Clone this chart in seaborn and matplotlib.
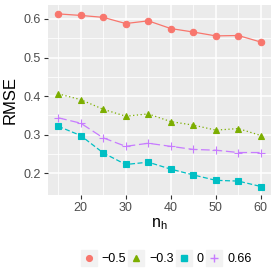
import numpy as np
import pandas as pd
import matplotlib
matplotlib.use('Agg')
import matplotlib.pyplot as plt
from matplotlib.lines import Line2D
import seaborn as sns

#%% datos
n_h = [15, 20, 25, 30, 35, 40, 45, 50, 55, 60]
rmse_m05 = [0.613, 0.609, 0.604, 0.588, 0.595, 0.575, 0.566, 0.556, 0.557, 0.540]
rmse_m03 = [0.406, 0.391, 0.366, 0.348, 0.354, 0.334, 0.325, 0.312, 0.316, 0.298]
rmse_0 = [0.322, 0.298, 0.253, 0.223, 0.229, 0.211, 0.196, 0.182, 0.180, 0.166]
rmse_066 = [0.344, 0.330, 0.292, 0.270, 0.278, 0.270, 0.262, 0.260, 0.254, 0.254]
grupos = ['\u22120.5', '\u22120.3', '0', '0.66']

df = pd.DataFrame({
    'n_h': n_h * 4,
    'RMSE': rmse_m05 + rmse_m03 + rmse_0 + rmse_066,
    'grupo': np.repeat(grupos, len(n_h)),
})

colores = dict(zip(grupos, ['#F8766D', '#7CAE00', '#00BFC4', '#C77CFF']))
marcas = dict(zip(grupos, ['o', '^', 's', '+']))
lineas = dict(zip(grupos, ['-', (0, (1, 2)), (0, (4, 2)), (0, (7, 3))]))
tam = dict(zip(grupos, [4.6, 5.0, 4.4, 6.0]))

#%% grafico
plt.rcParams['font.family'] = ['Liberation Sans', 'DejaVu Sans']
fig = plt.figure(figsize=(2.8, 2.8), dpi=100)
ax = fig.add_axes([48/280, 85/280, 223/280, 190/280])
ax.set_facecolor('#EBEBEB')

for g in grupos:
    sub = df[df['grupo'] == g]
    sns.lineplot(data=sub, x='n_h', y='RMSE', color=colores[g],
                 marker=marcas[g], linestyle=lineas[g], linewidth=0.9,
                 markersize=tam[g], markeredgewidth=0.8,
                 markeredgecolor=colores[g], ax=ax, zorder=3)

ax.set_xlim(12.75, 62.25)
ax.set_ylim(0.144, 0.636)
ax.set_xticks([20, 30, 40, 50, 60])
ax.set_yticks([0.2, 0.3, 0.4, 0.5, 0.6])
ax.set_xticks([15, 25, 35, 45, 55], minor=True)
ax.set_yticks([0.25, 0.35, 0.45, 0.55], minor=True)
ax.grid(which='major', color='white', linewidth=1.1, zorder=0)
ax.grid(which='minor', color='white', linewidth=0.55, zorder=0)
ax.set_axisbelow(True)
for s in ax.spines.values():
    s.set_visible(False)
ax.tick_params(which='major', length=3, width=0.8, color='#333333',
               labelsize=9, labelcolor='#4D4D4D', pad=2)
ax.tick_params(which='minor', length=0)
ax.yaxis.set_major_formatter(matplotlib.ticker.FormatStrFormatter('%.1f'))
ax.set_xlabel(r'$\mathregular{n_h}$', fontsize=11.5, labelpad=2)
ax.set_ylabel('RMSE', fontsize=12, labelpad=4)

# claves con fondo gris como en ggplot
handles = [(Line2D([], [], color='#F2F2F2', marker='s', linestyle='', markersize=12),
            Line2D([], [], color=colores[g], marker=marcas[g], linestyle='',
                   markersize=tam[g] * 0.9)) for g in grupos]
fig.legend(handles, grupos, loc='center', bbox_to_anchor=(0.597, 21/280), ncol=4,
           frameon=False, fontsize=9, handlelength=0.9, handletextpad=0.6,
           columnspacing=0.35)

fig.savefig('out.png', dpi=100)
